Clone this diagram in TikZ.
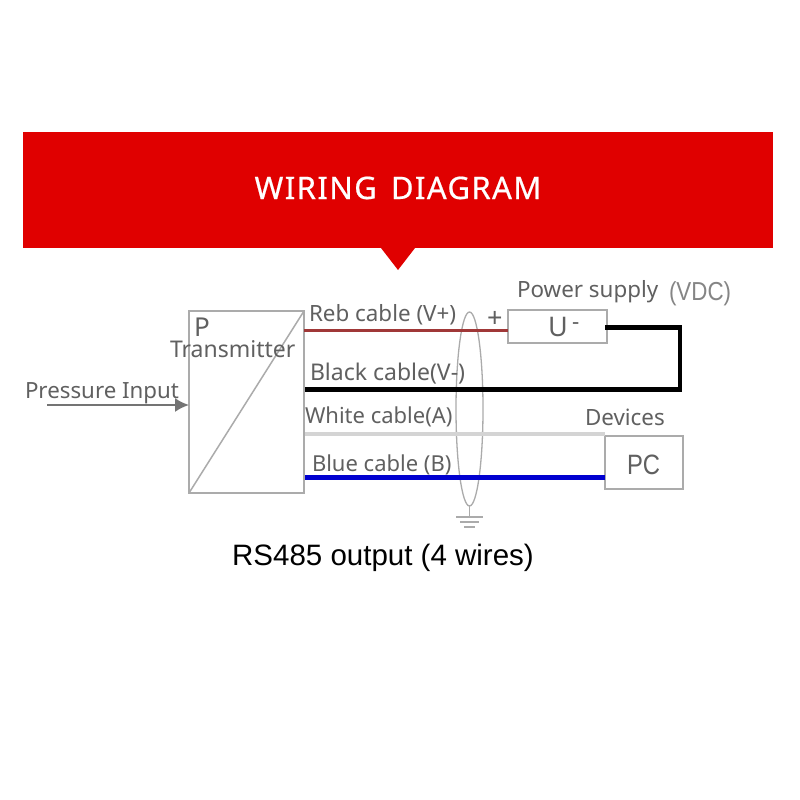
\documentclass[tikz,border=0pt]{standalone}
\usepackage{fontspec}
\usepackage{graphicx}
\usetikzlibrary{shapes.geometric,arrows.meta}
\setmainfont{Noto Sans}
\newfontfamily\arialfont{Liberation Sans}
\newfontfamily\titlefont[LetterSpace=4.5,FakeBold=0.6,WordSpace=1.5]{Noto Sans}
\definecolor{banner}{HTML}{E00000}
\definecolor{boxgray}{HTML}{ABABAB}
\definecolor{labelgray}{HTML}{606060}
\definecolor{arrowgray}{HTML}{747474}
\definecolor{vdcgray}{HTML}{858585}
\definecolor{redwire}{HTML}{A03838}
\definecolor{whitewire}{HTML}{D4D4D4}
\definecolor{bluewire}{HTML}{0000D0}
\begin{document}
\begin{tikzpicture}[x=1pt,y=-1pt,
  lbl/.style={inner sep=0pt,outer sep=0pt,text=labelgray,font=\fontsize{22.4}{22.4}\selectfont,anchor=base west},
  boxa/.style={draw=boxgray,line width=1.8pt,inner sep=0pt,outer sep=0pt,anchor=north west},
  wirethick/.style={line width=4.5pt,black},
  shield/.style={draw=boxgray,line width=1.3pt,outer sep=0pt}]
\useasboundingbox (0,0) rectangle (800,800);
\fill[white] (0,0) rectangle (800,800);
% banner
\fill[banner] (23,132) rectangle (773,248);
\fill[banner] (381,248) -- (415,248) -- (398,270) -- cycle;
\node[inner sep=0pt,text=white,anchor=base,font=\fontsize{31}{31}\selectfont\titlefont] (title) at (398,199) {WIRING DIAGRAM};
% boxes
\node[boxa,minimum width=115pt,minimum height=182pt] (tx) at (189,311) {};
\node[boxa,minimum width=99pt,minimum height=33pt] (ups) at (508,310) {};
\node[boxa,minimum width=78pt,minimum height=53pt] (pc) at (605,436) {};
\draw[boxgray,line width=1.5pt] (tx.south west) -- (tx.north east);
% shield
\node[shield,ellipse,minimum width=27pt,minimum height=194pt,inner sep=0pt] (sh) at (469.5,409) {};
% ground
\coordinate (g1) at (469.5,517);
\draw[boxgray,line width=1.3pt] (sh.south) -- (g1);
\draw[boxgray,line width=1.3pt] (456,517) -- (483,517) (460,522) -- (479,522) (464,527) -- (475,527);
% wires
\coordinate (rs) at (304,330);
\coordinate (bs) at (305,389.5);
\coordinate (ws) at (305,434);
\coordinate (ls) at (305,477.5);
\coordinate (c1) at (680,327.5);
\coordinate (c2) at (680,389.5);
\coordinate (ue) at (605,327.5);
\draw[redwire,line width=3pt] (rs) -- (ups.west |- rs);
\draw[wirethick,line join=miter] (ue) -- (c1) -- (c2) -- (bs);
\draw[whitewire,line width=3.7pt] (ws) -- (pc.north west |- ws);
\draw[bluewire,line width=4.5pt] (ls) -- (pc.west |- ls);
% arrow
\coordinate (ain) at (47,405);
\draw[arrowgray,line width=2pt,-{Latex[length=14pt,width=14pt]}] (ain) -- (tx.west |- ain);
% labels
\node[lbl,font=\fontsize{26}{26}\selectfont] (p) at (194,336) {P};
\node[lbl,font=\fontsize{23}{23}\selectfont] (t) at (170,357) {Transmitter};
\node[lbl,font=\fontsize{22.3}{22.3}\selectfont] (pi) at (25,398) {Pressure Input};
\node[lbl] (r) at (309,321) {Reb cable (V+)};
\node[lbl,font=\fontsize{23}{23}\selectfont] (k) at (310,380) {Black cable(V-)};
\node[lbl,font=\fontsize{22}{22}\selectfont] (w) at (305,423) {White cable(A)};
\node[lbl,font=\fontsize{22}{22}\selectfont] (b) at (312,471) {Blue cable (B)};
\node[lbl] (ps) at (517,297) {Power supply};
\node[lbl,text=vdcgray,font=\fontsize{26}{26}\selectfont\arialfont] (vdc) at (669,300) {\scalebox{0.86}[1]{(VDC)}};
\node[lbl,font=\fontsize{27}{27}\selectfont] (plus) at (487,327) {+};
\node[lbl,font=\fontsize{27}{27}\selectfont] (u) at (548,336) {U};
\node[lbl] (minus) at (572,329) {-};
\node[lbl] (dev) at (585,425) {Devices};
\node[lbl,font=\fontsize{28}{28}\selectfont\arialfont] (pct) at (627,474) {\scalebox{0.85}[1]{PC}};
\node[inner sep=0pt,anchor=base,text=black,font=\fontsize{29.5}{29.5}\selectfont\arialfont] (cap) at (383,565) {RS485 output (4 wires)};
\end{tikzpicture}
\end{document}
